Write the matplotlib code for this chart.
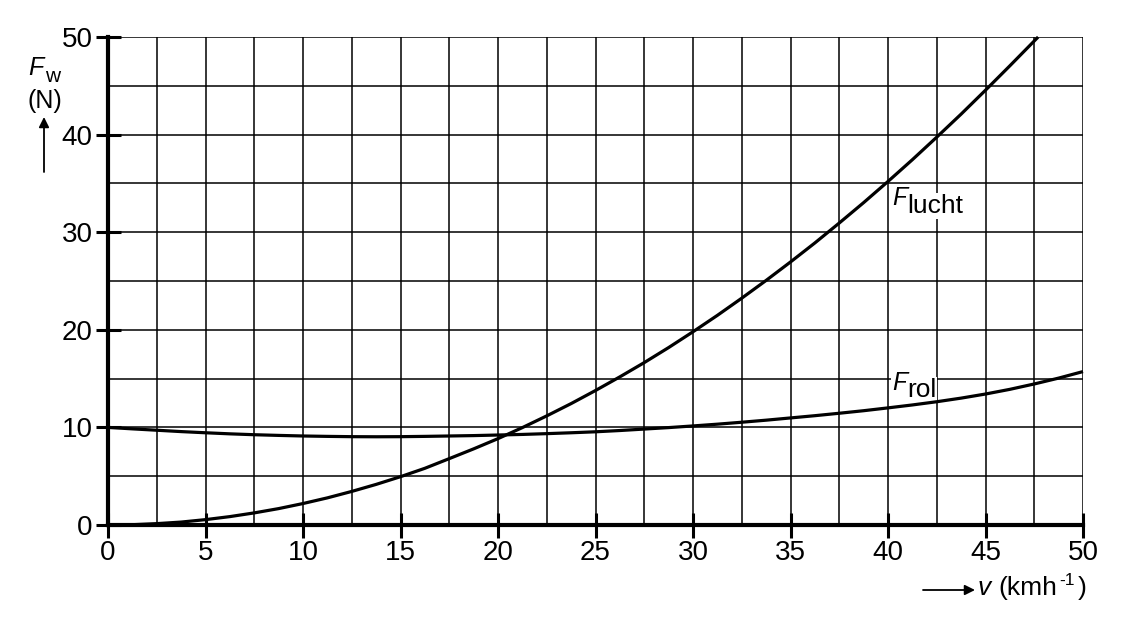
import matplotlib
matplotlib.use("Agg")
import matplotlib.pyplot as plt
from matplotlib.patches import FancyArrowPatch
import numpy as np

plt.rcParams['font.family'] = ['Liberation Sans', 'DejaVu Sans']

v_lucht = [0, 1.25, 2.5, 3.75, 5, 6.25, 7.5, 8.75, 10, 11.25, 12.5, 13.75, 15, 16.25, 17.5, 18.75,
           20, 21.25, 22.5, 23.75, 25, 26.25, 27.5, 28.75, 30, 31.25, 32.5, 33.75, 35, 36.25,
           37.5, 38.75, 40, 41.25, 42.5, 43.75, 45, 46.25, 47.7]
F_lucht = [0, 0.03, 0.14, 0.3, 0.55, 0.86, 1.24, 1.68, 2.2, 2.78, 3.44, 4.16, 4.95, 5.81, 6.8, 7.8,
           8.85, 9.98, 11.18, 12.44, 13.78, 15.18, 16.64, 18.18, 19.8, 21.48, 23.24, 25.06, 26.95, 28.9,
           30.94, 33.03, 35.2, 37.43, 39.74, 42.1, 44.55, 47.05, 50.0]

v_rol = [0, 1.25, 2.5, 3.75, 5, 6.25, 7.5, 8.75, 10, 11.25, 12.5, 13.75, 15, 16.25, 17.5, 18.75,
         20, 21.25, 22.5, 23.75, 25, 26.25, 27.5, 28.75, 30, 31.25, 32.5, 33.75, 35, 36.25,
         37.5, 38.75, 40, 41.25, 42.5, 43.75, 45, 46.25, 47.5, 48.75, 50]
F_rol = [10.0, 9.85, 9.71, 9.57, 9.45, 9.34, 9.25, 9.18, 9.12, 9.08, 9.05, 9.04, 9.05, 9.08, 9.12, 9.16,
         9.22, 9.28, 9.36, 9.45, 9.55, 9.68, 9.83, 9.98, 10.15, 10.33, 10.53, 10.74, 10.97, 11.2,
         11.45, 11.71, 12.0, 12.3, 12.63, 13.0, 13.42, 13.9, 14.45, 15.05, 15.72]

x_ticks = [0, 5, 10, 15, 20, 25, 30, 35, 40, 45, 50]
y_ticks = [0, 10, 20, 30, 40, 50]

W, H = 1126, 627
fig = plt.figure(figsize=(W / 100, H / 100), dpi=100)
ax = fig.add_axes([108 / W, 1 - 525 / H, (1083 - 108) / W, (525 - 37) / H])

ax.set_xlim(0, 50)
ax.set_ylim(0, 50)
ax.set_xticks(x_ticks)
ax.set_yticks(y_ticks)
ax.set_xticks(np.arange(0, 50.1, 2.5), minor=True)
ax.set_yticks(np.arange(0, 50.1, 5), minor=True)
ax.grid(which='both', color='black', linewidth=1.1)
ax.set_axisbelow(True)
ax.tick_params(which='major', direction='inout', length=18, width=2.2, labelsize=20, pad=2, colors='black')
ax.tick_params(which='minor', length=0)
for s in ['top', 'right']:
    ax.spines[s].set_visible(False)
for s in ['left', 'bottom']:
    ax.spines[s].set_linewidth(3)
    ax.spines[s].set_zorder(5)

ax.plot(v_lucht, F_lucht, color='black', linewidth=2.3, solid_capstyle='butt',
        solid_joinstyle='round', clip_on=False, zorder=4)
ax.plot(v_rol, F_rol, color='black', linewidth=2.3, solid_capstyle='butt',
        solid_joinstyle='round', clip_on=False, zorder=4)

box = dict(facecolor='white', edgecolor='none', pad=0.5)
# curve labels
ax.text(40.2, 32.8, 'F', style='italic', fontsize=18, va='baseline', ha='left', bbox=box, zorder=3)
ax.annotate('lucht', xy=(40.2, 32.8), xytext=(10.8, -5.8), textcoords='offset points',
            fontsize=19, va='baseline', ha='left', bbox=box, zorder=3)
ax.text(40.2, 13.83, 'F', style='italic', fontsize=18, va='baseline', ha='left', bbox=box, zorder=3)
ax.annotate('rol', xy=(40.2, 13.83), xytext=(10.8, -5.0), textcoords='offset points',
            fontsize=19, va='baseline', ha='left', bbox=box, zorder=3)

# y axis label
fig.text(28 / W, 1 - 75 / H, 'F', style='italic', fontsize=18, va='baseline', ha='left')
fig.text(45 / W, 1 - 82 / H, 'w', fontsize=15, va='baseline', ha='left')
fig.text(44.5 / W, 1 - 108 / H, '(N)', fontsize=18, va='baseline', ha='center')
fig.patches.append(FancyArrowPatch((44 / W, 1 - 172 / H), (44 / W, 1 - 117 / H),
                                   transform=fig.transFigure, arrowstyle='-|>',
                                   mutation_scale=15, color='black', linewidth=1.3,
                                   shrinkA=0, shrinkB=0))

# x axis label
fig.patches.append(FancyArrowPatch((923 / W, 1 - 590 / H), (975 / W, 1 - 590 / H),
                                   transform=fig.transFigure, arrowstyle='-|>',
                                   mutation_scale=15, color='black', linewidth=1.3,
                                   shrinkA=0, shrinkB=0))
renderer = fig.canvas.get_renderer()
fig.text(978 / W, 1 - 595 / H, 'v', style='italic', fontsize=19, va='baseline', ha='left')
t_k = fig.text(998 / W, 1 - 595 / H, '(kmh', fontsize=19, va='baseline', ha='left')
x_end = t_k.get_window_extent(renderer).x1
t_s = fig.text((x_end + 2) / W, 1 - 585 / H, '-1', fontsize=12.5, va='baseline', ha='left')
x_end2 = t_s.get_window_extent(renderer).x1
fig.text((x_end2 + 3) / W, 1 - 595 / H, ')', fontsize=19, va='baseline', ha='left')

fig.savefig('out.png', dpi=100, facecolor='white')
